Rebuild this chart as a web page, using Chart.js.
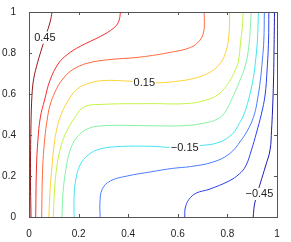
<!DOCTYPE html>
<html lang="en">
<head>
  <meta charset="UTF-8">
  <title>Contour</title>
  <script src="https://cdn.jsdelivr.net/npm/chart.js"></script>
  <style>
    html, body { margin: 0; padding: 0; background: #fff; }
    .chart-box { position: relative; width: 291px; height: 242px; }
  </style>
</head>
<body>
  <div class="chart-box"><canvas id="contourChart"></canvas></div>

  <script>
    // contour levels, top-left (dark red) to right side (dark blue)
    const levels = [0.45, 0.35, 0.25, 0.15, 0.05, -0.05, -0.15, -0.25, -0.35, -0.45];
    const lineColors = ['#921818', '#f42c2c', '#ff6a3c', '#ffd23c', '#c4f448',
                        '#84f2a4', '#44e6f0', '#4a7eff', '#2c40f0', '#1c1cb8'];

    // points [x, y]
    const c_p45 = [[0.008,0],[0.006,0.2],[0.008,0.45],[0.012,0.594],[0.019,0.675],[0.035,0.755],
                   [0.053,0.828],[0.068,0.885],[0.086,0.955],[0.093,1]];
    const c_p35 = [[0.027,0],[0.030,0.234],[0.036,0.376],[0.046,0.488],[0.063,0.571],[0.085,0.668],
                   [0.120,0.751],[0.154,0.792],[0.207,0.833],[0.288,0.881],[0.342,0.922],[0.362,0.955],[0.369,1]];
    const c_p25 = [[0.051,0],[0.055,0.234],[0.063,0.376],[0.075,0.488],[0.085,0.546],[0.105,0.610],
                   [0.133,0.668],[0.174,0.717],[0.238,0.751],[0.327,0.768],[0.448,0.780],[0.578,0.805],
                   [0.651,0.827],[0.687,0.859],[0.703,0.898],[0.707,0.937],[0.706,1]];
    const c_p15 = [[0.080,0],[0.085,0.132],[0.093,0.249],[0.101,0.351],[0.113,0.434],[0.126,0.488],
                   [0.154,0.561],[0.194,0.624],[0.246,0.654],[0.307,0.666],[0.396,0.663],[0.509,0.655],
                   [0.590,0.661],[0.671,0.678],[0.731,0.707],[0.772,0.751],[0.796,0.815],[0.806,0.888],
                   [0.809,0.961],[0.809,1]];
    const c_p05 = [[0.098,0],[0.103,0.132],[0.111,0.234],[0.125,0.327],[0.145,0.4],[0.186,0.488],
                   [0.222,0.537],[0.287,0.549],[0.489,0.553],[0.630,0.553],[0.711,0.569],[0.766,0.601],
                   [0.807,0.659],[0.834,0.723],[0.844,0.756],[0.854,0.863],[0.861,0.937],[0.863,1]];
    const c_m05 = [[0.133,0],[0.137,0.117],[0.149,0.234],[0.166,0.327],[0.194,0.390],[0.234,0.429],
                   [0.287,0.444],[0.388,0.447],[0.489,0.445],[0.630,0.446],[0.711,0.459],[0.760,0.478],
                   [0.788,0.507],[0.816,0.571],[0.848,0.659],[0.873,0.741],[0.887,0.839],[0.893,0.937],[0.896,1]];
    const c_m15 = [[0.182,0],[0.182,0.107],[0.190,0.190],[0.206,0.254],[0.238,0.302],[0.287,0.332],
                   [0.368,0.344],[0.489,0.345],[0.574,0.340],[0.686,0.348],[0.766,0.364],[0.820,0.405],
                   [0.847,0.454],[0.867,0.502],[0.885,0.571],[0.903,0.668],[0.913,0.756],[0.921,0.863],[0.925,1]];
    const c_m25 = [[0.287,0],[0.286,0.068],[0.295,0.135],[0.328,0.176],[0.396,0.2],[0.490,0.220],
                   [0.578,0.237],[0.651,0.246],[0.739,0.267],[0.807,0.307],[0.854,0.372],[0.888,0.438],
                   [0.909,0.502],[0.921,0.571],[0.933,0.668],[0.941,0.766],[0.947,0.863],[0.949,1]];
    const c_m35 = [[0.628,0],[0.630,0.044],[0.645,0.086],[0.675,0.117],[0.726,0.135],[0.807,0.176],
                   [0.848,0.210],[0.874,0.249],[0.897,0.327],[0.917,0.410],[0.937,0.502],[0.952,0.595],
                   [0.960,0.717],[0.966,0.863],[0.967,1]];
    const c_m45 = [[0.904,0],[0.909,0.059],[0.920,0.112],[0.933,0.166],[0.954,0.249],[0.972,0.327],
                   [0.978,0.424],[0.982,0.522],[0.986,0.668],[0.988,0.815],[0.990,1]];

    const contourLines = [c_p45, c_p35, c_p25, c_p15, c_p05, c_m05, c_m15, c_m25, c_m35, c_m45];

    // inline contour labels
    const labelText = ['0.45', '0.15', '\u22120.15', '\u22120.45'];
    const labelX = [0.064, 0.465, 0.628, 0.929];
    const labelY = [0.875, 0.655, 0.339, 0.112];

    const tickValues = [0, 0.2, 0.4, 0.6, 0.8, 1];
    const tickLabels = ['0', '0.2', '0.4', '0.6', '0.8', '1'];

    const fontFamily = '"Liberation Sans", Arial, Helvetica, sans-serif';

    const datasets = contourLines.map((pts, i) => ({
      label: String(levels[i]),
      data: pts.map(p => ({ x: p[0], y: p[1] })),
      borderColor: lineColors[i],
      borderWidth: 1,
      pointRadius: 0,
      showLine: true,
      fill: false,
      tension: 0.4
    }));

    // box, inward ticks and inline labels
    const matlabAxes = {
      id: 'matlabAxes',
      afterDatasetsDraw(chart) {
        const { ctx, chartArea: a, scales: { x, y } } = chart;
        ctx.save();

        ctx.font = '11px ' + fontFamily;
        ctx.textAlign = 'center';
        ctx.textBaseline = 'middle';
        labelText.forEach((t, i) => {
          const px = x.getPixelForValue(labelX[i]);
          const py = y.getPixelForValue(labelY[i]);
          const w = ctx.measureText(t).width;
          ctx.fillStyle = '#fff';
          ctx.fillRect(px - w / 2 - 1, py - 6, w + 2, 12);
          ctx.fillStyle = '#222';
          ctx.fillText(t, px, py);
        });

        ctx.strokeStyle = '#555';
        ctx.lineWidth = 1;
        ctx.strokeRect(Math.round(a.left) + 0.5, Math.round(a.top) + 0.5,
                       Math.round(a.right - a.left), Math.round(a.bottom - a.top));
        ctx.beginPath();
        tickValues.forEach(v => {
          const px = Math.round(x.getPixelForValue(v)) + 0.5;
          ctx.moveTo(px, a.bottom); ctx.lineTo(px, a.bottom - 3);
          ctx.moveTo(px, a.top); ctx.lineTo(px, a.top + 3);
          const py = Math.round(y.getPixelForValue(v)) + 0.5;
          ctx.moveTo(a.left, py); ctx.lineTo(a.left + 3, py);
          ctx.moveTo(a.right, py); ctx.lineTo(a.right - 3, py);
        });
        ctx.stroke();
        ctx.restore();
      }
    };

    const ctx = document.getElementById('contourChart').getContext('2d');
    new Chart(ctx, {
      type: 'scatter',
      data: { datasets: datasets },
      options: {
        responsive: true,
        maintainAspectRatio: false,
        animation: false,
        layout: { padding: { top: 12, right: 14, left: 0, bottom: 0 } },
        plugins: { legend: { display: false }, tooltip: { enabled: false } },
        scales: {
          x: {
            type: 'linear', min: 0, max: 1,
            afterBuildTicks: s => { s.ticks = tickValues.map(v => ({ value: v })); },
            afterFit: s => { s.height = 25; },
            ticks: {
              color: '#222', padding: 3, maxRotation: 0,
              font: { size: 10, family: fontFamily },
              callback: (v, i) => tickLabels[i]
            },
            grid: { display: false },
            border: { display: false }
          },
          y: {
            type: 'linear', min: 0, max: 1,
            afterBuildTicks: s => { s.ticks = tickValues.map(v => ({ value: v })); },
            afterFit: s => { s.width = 29; },
            ticks: {
              color: '#222', padding: 5,
              font: { size: 10, family: fontFamily },
              callback: (v, i) => tickLabels[i]
            },
            grid: { display: false },
            border: { display: false }
          }
        }
      },
      plugins: [matlabAxes]
    });
  </script>
</body>
</html>
